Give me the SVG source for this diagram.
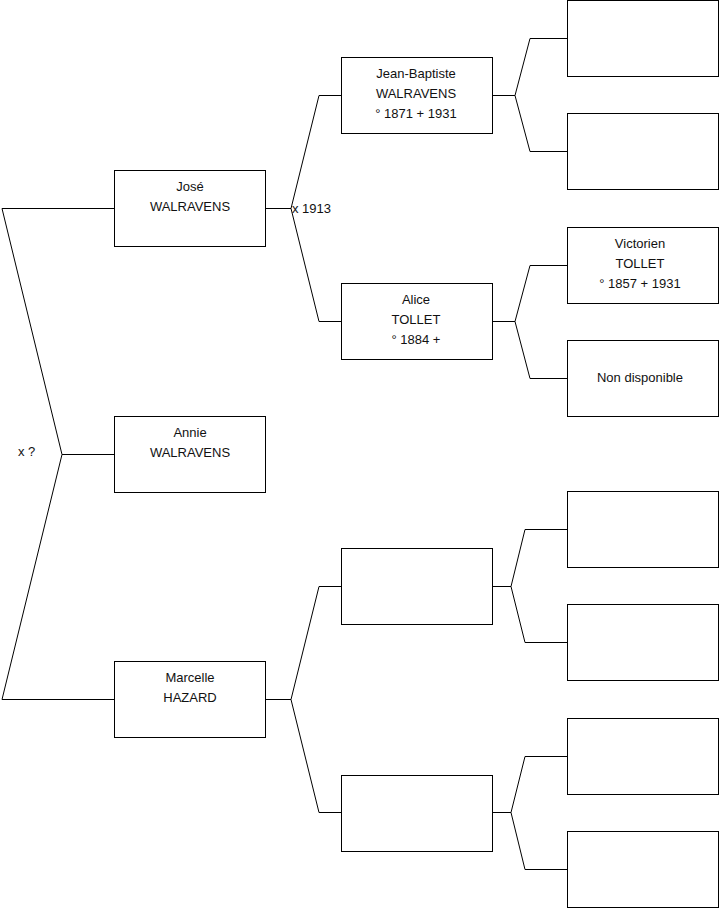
<svg xmlns="http://www.w3.org/2000/svg" width="719" height="908" viewBox="0 0 719 908">
<style>
.box{fill:#fff;stroke:#000;stroke-width:1}
.ln{fill:none;stroke:#000;stroke-width:1}
text{font-family:"Liberation Sans",Arial,sans-serif;font-size:13px;fill:#111}
.c{text-anchor:middle}
</style>
<rect width="719" height="908" fill="#fff"/>
<g id="connectors">
<polyline class="ln" points="114,208.5 2,208.5 62,454.5 2,699.5 114,699.5"/>
<line class="ln" x1="62" y1="454.5" x2="114" y2="454.5"/>
<polyline class="ln" points="341,95.5 319,95.5 291,208.5 319,321.5 341,321.5"/>
<line class="ln" x1="265" y1="208.5" x2="291" y2="208.5"/>
<polyline class="ln" points="341,586.5 319,586.5 291,699.5 319,812.5 341,812.5"/>
<line class="ln" x1="265" y1="699.5" x2="291" y2="699.5"/>
<polyline class="ln" points="567,38.5 530,38.5 515,95.5 530,151.5 567,151.5"/>
<line class="ln" x1="492" y1="95.5" x2="515" y2="95.5"/>
<polyline class="ln" points="567,265.5 530,265.5 515,321.5 530,378.5 567,378.5"/>
<line class="ln" x1="492" y1="321.5" x2="515" y2="321.5"/>
<polyline class="ln" points="567,529.5 525,529.5 511,586.5 525,642.5 567,642.5"/>
<line class="ln" x1="492" y1="586.5" x2="511" y2="586.5"/>
<polyline class="ln" points="567,756.5 525,756.5 511,812.5 525,869.5 567,869.5"/>
<line class="ln" x1="492" y1="812.5" x2="511" y2="812.5"/>
<text x="292" y="212.5">x 1913</text>
<text x="18" y="455.5">x ?</text>
</g>
<g id="jose"><rect class="box" x="114.5" y="170.5" width="151" height="76"/><text class="c" x="190" y="191">José</text><text class="c" x="190" y="211">WALRAVENS</text></g>
<g id="annie"><rect class="box" x="114.5" y="416.5" width="151" height="76"/><text class="c" x="190" y="437">Annie</text><text class="c" x="190" y="457">WALRAVENS</text></g>
<g id="marcelle"><rect class="box" x="114.5" y="661.5" width="151" height="76"/><text class="c" x="190" y="682">Marcelle</text><text class="c" x="190" y="702">HAZARD</text></g>
<g id="jeanbaptiste"><rect class="box" x="341.5" y="57.5" width="151" height="76"/><text class="c" x="416" y="78">Jean-Baptiste</text><text class="c" x="416" y="98">WALRAVENS</text><text class="c" x="416" y="118">° 1871 + 1931</text></g>
<g id="alice"><rect class="box" x="341.5" y="283.5" width="151" height="76"/><text class="c" x="416" y="304">Alice</text><text class="c" x="416" y="324">TOLLET</text><text class="c" x="416" y="344">° 1884 +</text></g>
<g id="father-m"><rect class="box" x="341.5" y="548.5" width="151" height="76"/></g>
<g id="mother-m"><rect class="box" x="341.5" y="775.5" width="151" height="76"/></g>
<g id="gp1"><rect class="box" x="567.5" y="0.5" width="151" height="76"/></g>
<g id="gp2"><rect class="box" x="567.5" y="113.5" width="151" height="76"/></g>
<g id="victorien"><rect class="box" x="567.5" y="227.5" width="151" height="76"/><text class="c" x="640" y="248">Victorien</text><text class="c" x="640" y="268">TOLLET</text><text class="c" x="640" y="288">° 1857 + 1931</text></g>
<g id="nondispo"><rect class="box" x="567.5" y="340.5" width="151" height="76"/><text class="c" x="640" y="382">Non disponible</text></g>
<g id="gp5"><rect class="box" x="567.5" y="491.5" width="151" height="76"/></g>
<g id="gp6"><rect class="box" x="567.5" y="604.5" width="151" height="76"/></g>
<g id="gp7"><rect class="box" x="567.5" y="718.5" width="151" height="76"/></g>
<g id="gp8"><rect class="box" x="567.5" y="831.5" width="151" height="76"/></g>
</svg>
